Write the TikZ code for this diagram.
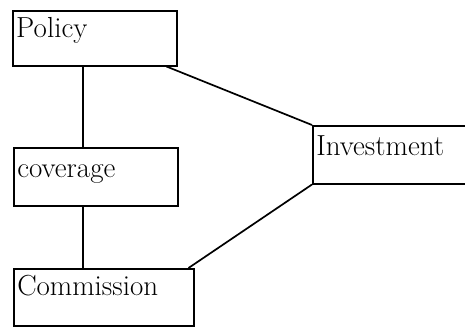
\documentclass[tikz,border=0pt]{standalone}
\usepackage{fontspec}
\begin{document}
\begin{tikzpicture}[x=1pt,y=-1pt,
  entity/.style={draw, line width=1.5pt, anchor=north west, inner xsep=3.5pt, inner ysep=0pt,
    align=left, font=\fontsize{29}{33}\selectfont},
  link/.style={line width=1.7pt}]
  \useasboundingbox (0,0) rectangle (465,327);
  \node[entity, text width=157pt, text height=27pt, text depth=28pt] (policy) at (12,10) {Policy};
  \node[entity, text width=157pt, text height=30pt, text depth=28pt] (coverage) at (13,147) {coverage};
  \node[entity, text width=173pt, text height=27pt, text depth=30pt] (commission) at (13,268) {Commission};
  \node[entity, text width=163pt, text height=30pt, text depth=28pt] (investment) at (312,125) {Investment};
  \draw[link] ([xshift=71pt]policy.south west) -- ([xshift=70pt]coverage.north west);
  \draw[link] ([xshift=70pt]coverage.south west) -- ([xshift=70pt]commission.north west);
  \draw[link] ([xshift=-11pt]policy.south east) -- (investment.north west);
  \draw[link] ([xshift=-6pt]commission.north east) -- (investment.south west);
\end{tikzpicture}
\end{document}
